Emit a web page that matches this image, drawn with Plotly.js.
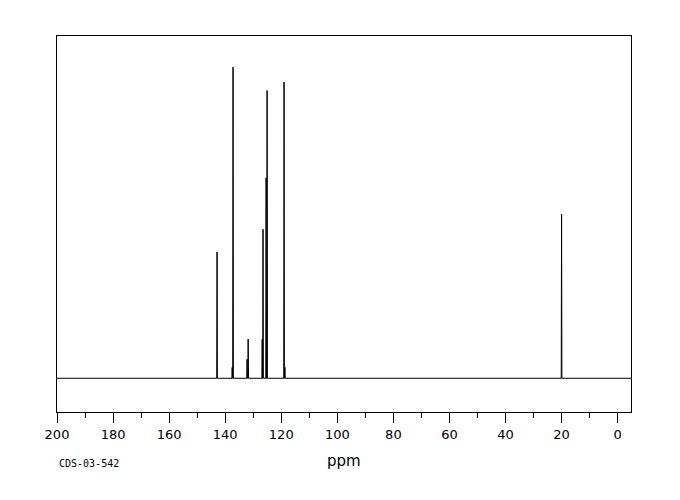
<!DOCTYPE html>
<html>
<head>
<meta charset="utf-8">
<script src="https://cdn.plot.ly/plotly-3.0.1.min.js"></script>
<style>
  html, body { margin: 0; padding: 0; background: #fff; }
  #chart { width: 680px; height: 500px; }
</style>
</head>
<body>
<div id="chart"></div>
<script>
// peak positions (ppm) and relative heights
const peakPpm = [142.9, 137.5, 137.2, 132.2, 131.8, 126.8, 126.5, 125.4, 125.05, 119.0, 118.7, 20.0];
const peakHeight = [40.6, 3.5, 100, 6.1, 12.6, 12.5, 47.9, 64.4, 92.5, 95.2, 3.5, 52.8];

const xRange = [200, -4.77];
const yRange = [-10.84, 110.0];
const tickVals = [200, 180, 160, 140, 120, 100, 80, 60, 40, 20, 0];
const tickText = ['200', '180', '160', '140', '120', '100', '80', '60', '40', '20', '0'];
const sampleId = 'CDS-03-542';

// stick spectrum: baseline with a narrow line at every peak
function buildSpectrum(ppm, h) {
  const order = ppm.map((p, i) => i).sort((a, b) => ppm[b] - ppm[a]);
  const xs = [xRange[0]];
  const ys = [0];
  const half = 0.12;
  for (const i of order) {
    xs.push(ppm[i] + half, ppm[i], ppm[i] - half);
    ys.push(0, h[i], 0);
  }
  xs.push(xRange[1]);
  ys.push(0);
  return { xs, ys };
}

const spec = buildSpectrum(peakPpm, peakHeight);

const traces = [{
  x: spec.xs,
  y: spec.ys,
  type: 'scatter',
  mode: 'lines',
  line: { color: '#000', width: 1, shape: 'linear' },
  hoverinfo: 'skip',
  showlegend: false
}];

const layout = {
  width: 680,
  height: 500,
  margin: { l: 57, r: 49, t: 36, b: 88 },
  paper_bgcolor: '#fff',
  plot_bgcolor: '#fff',
  showlegend: false,
  font: { family: 'DejaVu Sans, sans-serif', color: '#000', size: 13 },
  xaxis: {
    range: xRange,
    showgrid: false,
    zeroline: false,
    showline: true,
    mirror: true,
    linecolor: '#000',
    linewidth: 1,
    ticks: 'outside',
    ticklen: 10,
    tickwidth: 1,
    tickcolor: '#000',
    tickmode: 'array',
    tickvals: tickVals,
    ticktext: tickText,
    tickfont: { family: 'DejaVu Sans, sans-serif', size: 13, color: '#000' },
    minor: { dtick: 10, tick0: 0, ticks: 'outside', ticklen: 5, tickwidth: 1, tickcolor: '#000', showgrid: false }
  },
  yaxis: {
    range: yRange,
    showgrid: false,
    zeroline: false,
    showline: true,
    mirror: true,
    linecolor: '#000',
    linewidth: 1,
    ticks: '',
    showticklabels: false
  },
  annotations: [
    {
      text: 'ppm',
      xref: 'paper', yref: 'paper',
      x: 0.5, y: -0.13,
      xanchor: 'center', yanchor: 'middle',
      showarrow: false,
      font: { family: 'DejaVu Sans, sans-serif', size: 15, color: '#000' }
    },
    {
      text: sampleId,
      xref: 'paper', yref: 'paper',
      x: 0, y: -0.138,
      xanchor: 'left', yanchor: 'middle',
      showarrow: false,
      font: { family: 'DejaVu Sans Mono, monospace', size: 10, color: '#000' }
    }
  ]
};

Plotly.newPlot('chart', traces, layout, { staticPlot: true, displayModeBar: false });
</script>
</body>
</html>
